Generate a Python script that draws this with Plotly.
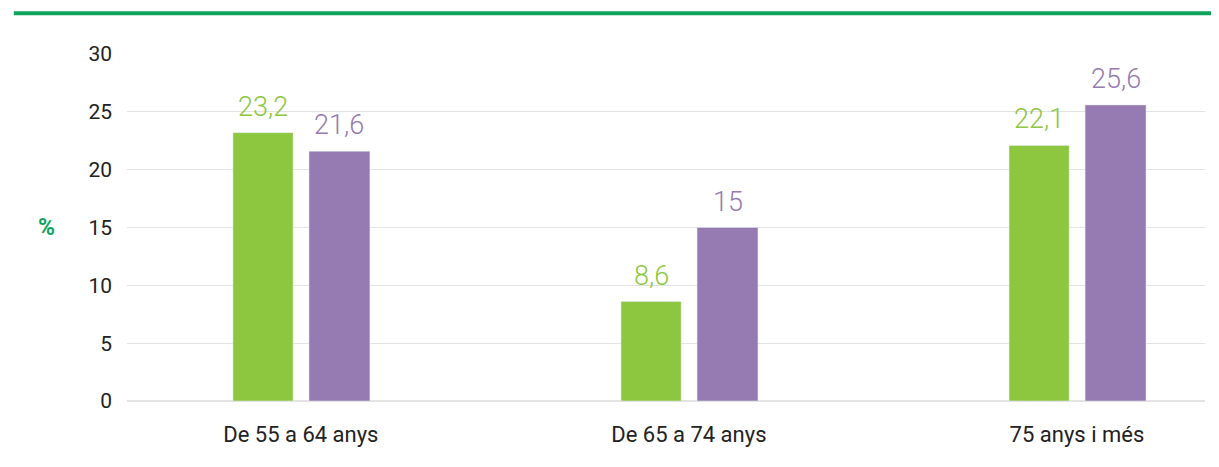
import plotly.graph_objects as go

categories = ["De 55 a 64 anys", "De 65 a 74 anys", "75 anys i més"]
serie_a = [23.2, 8.6, 22.1]
serie_b = [21.6, 15, 25.6]
y_ticks = [0, 5, 10, 15, 20, 25, 30]

GREEN = "#8DC63F"
PURPLE = "#957BB1"
LINE_GREEN = "#0FA35E"

def fmt(v):
    s = ("%.1f" % v).rstrip("0").rstrip(".")
    return s.replace(".", ",")

x = list(range(len(categories)))
W_A, OFF_A = 0.155, -0.175
W_B, OFF_B = 0.157, 0.021

fig = go.Figure()
fig.add_trace(go.Bar(x=x, y=serie_a, marker_color=GREEN, width=W_A, offset=OFF_A,
                     showlegend=False))
fig.add_trace(go.Bar(x=x, y=serie_b, marker_color=PURPLE, width=W_B, offset=OFF_B,
                     showlegend=False))

annotations = []
for vals, col, w, off in [(serie_a, GREEN, W_A, OFF_A), (serie_b, PURPLE, W_B, OFF_B)]:
    for xi, v in zip(x, vals):
        annotations.append(dict(
            x=xi + off + w / 2, y=v, xref="x", yref="y", text=fmt(v),
            showarrow=False, yanchor="bottom", yshift=8,
            font=dict(color=col, size=27, family="Roboto", weight=300),
        ))
annotations.append(dict(
    text="<b>%</b>", xref="paper", yref="paper", x=-0.075, y=0.5,
    xanchor="center", yanchor="middle", showarrow=False,
    font=dict(color=LINE_GREEN, size=23, family="Roboto"),
))

fig.update_layout(
    width=1211, height=451,
    margin=dict(l=119, r=14, t=46, b=56),
    plot_bgcolor="white", paper_bgcolor="white",
    barmode="overlay",
    font=dict(family="Roboto", color="#222222"),
    xaxis=dict(
        tickmode="array", tickvals=x, ticktext=categories,
        range=[-0.448, 2.33], showgrid=False, zeroline=False,
        showline=False, tickfont=dict(size=22), ticks="",
        ticklabelstandoff=18,
    ),
    yaxis=dict(
        range=[0, 30], tickmode="array", tickvals=y_ticks,
        showgrid=True, gridcolor="#E3E3E3", gridwidth=1,
        zeroline=True, zerolinecolor="#E3E3E3", zerolinewidth=2,
        tickfont=dict(size=21), ticks="", ticklabelstandoff=14,
    ),
    shapes=[dict(
        type="line", xref="paper", yref="paper",
        x0=-0.105, x1=1.02, y0=1.1175, y1=1.1175,
        line=dict(color=LINE_GREEN, width=4),
    )],
    annotations=annotations,
)

fig.write_html("out.html")
